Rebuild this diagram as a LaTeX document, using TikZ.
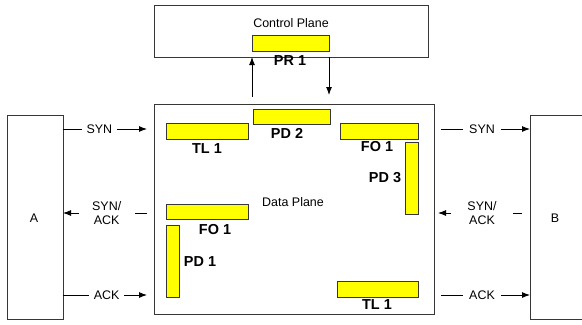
\documentclass[tikz,border=0pt]{standalone}
\usepackage{fontspec}
\setmainfont{Liberation Sans}
\usetikzlibrary{arrows.meta}
\definecolor{nyellow}{RGB}{255, 255, 0}
\definecolor{nframe}{RGB}{55, 55, 55}

\begin{document}
\begin{tikzpicture}[x=1bp,y=-1bp,line width=0.9bp,>={Latex[length=8bp,width=6bp]}]
    \tikzstyle{every node}=[inner sep=0,outer sep=0]
    \tikzstyle{box}=[draw=nframe,fill=white]
    \tikzstyle{bar}=[draw=nframe,fill=nyellow]
    \tikzstyle{tag}=[font=\fontsize{14.5}{16}\bfseries\selectfont]
    \tikzstyle{txt}=[font=\fontsize{12.5}{14}\selectfont,align=center]
    \tikzstyle{msg}=[draw=black]
    \useasboundingbox (0,0) rectangle (582,324);
    \clip (0,0) rectangle (582,324);
    % planes and end hosts
    \node[box,minimum width=274bp,minimum height=52bp] (CP) at (291,31) {};
    \node[box,minimum width=280bp,minimum height=210bp] (DP) at (294,209) {};
    \node[box,minimum width=56bp,minimum height=204bp] (A) at (35,217) {};
    \node[box,minimum width=60bp,minimum height=204bp] (B) at (560,217) {};
    \node[txt] at (CP.center |- 0,23) {Control Plane};
    \node[txt] at (293,202) {Data Plane};
    \node[txt] at (34,218) {A};
    \node[txt] at (555,218) {B};
    % yellow parts
    \node[bar,minimum width=77bp,minimum height=16bp] (PR1) at (290.5,43) {};
    \node[bar,minimum width=77bp,minimum height=15bp] (PD2) at (291.5,116.5) {};
    \node[bar,minimum width=82bp,minimum height=16bp] (TL1) at (207,131) {};
    \node[bar,minimum width=78bp,minimum height=16bp] (FO1) at (379,131) {};
    \node[bar,minimum width=13bp,minimum height=72bp] (PD3) at (411.5,178) {};
    \node[bar,minimum width=82bp,minimum height=15bp] (FO2) at (207,211.5) {};
    \node[bar,minimum width=13bp,minimum height=72bp] (PD1) at (172.5,261) {};
    \node[bar,minimum width=81bp,minimum height=16bp] (TL2) at (377.5,289) {};
    \node[tag] at (290,61) {PR 1};
    \node[tag] at (287,133) {PD 2};
    \node[tag] at (207,149) {TL 1};
    \node[tag] at (377,147) {FO 1};
    \node[tag] at (385,178) {PD 3};
    \node[tag] at (215,230) {FO 1};
    \node[tag] at (200,262) {PD 1};
    \node[tag] at (377,305) {TL 1};
    % control plane links
    \draw[->] (PR1.west |- DP.north) [shorten <=7bp] -- (PR1.west |- CP.south);
    \draw[->] (PR1.east |- CP.south) -- (PR1.east |- DP.north) [shorten >=9bp];
    % handshake
    \coordinate (r1) at (0,129);
    \coordinate (r2) at (0,213);
    \coordinate (r3) at (0,295);
    \draw[msg,->,shorten >=7bp] (A.east |- r1) -- (DP.west |- r1)
        node[txt,fill=white,pos=0.4,inner xsep=5bp] {SYN};
    \draw[msg,->,shorten <=7bp] (DP.west |- r2) -- (A.east |- r2)
        node[txt,fill=white,pos=0.52,minimum width=56bp,inner ysep=2bp] {SYN/\\ACK};
    \draw[msg,->,shorten >=7bp] (A.east |- r3) -- (DP.west |- r3)
        node[txt,fill=white,pos=0.48,inner xsep=5bp] {ACK};
    \draw[msg,->,shorten <=7bp] (DP.east |- r1) -- (B.west |- r1)
        node[txt,fill=white,pos=0.5,inner xsep=6bp] {SYN};
    \draw[msg,->,shorten <=8bp,shorten >=4bp] (B.west |- r2) -- (DP.east |- r2)
        node[txt,fill=white,pos=0.5,minimum width=62bp,inner ysep=2bp] {SYN/\\ACK};
    \draw[msg,->,shorten <=7bp] (DP.east |- r3) -- (B.west |- r3)
        node[txt,fill=white,pos=0.5,inner xsep=6bp] {ACK};
\end{tikzpicture}
\end{document}
